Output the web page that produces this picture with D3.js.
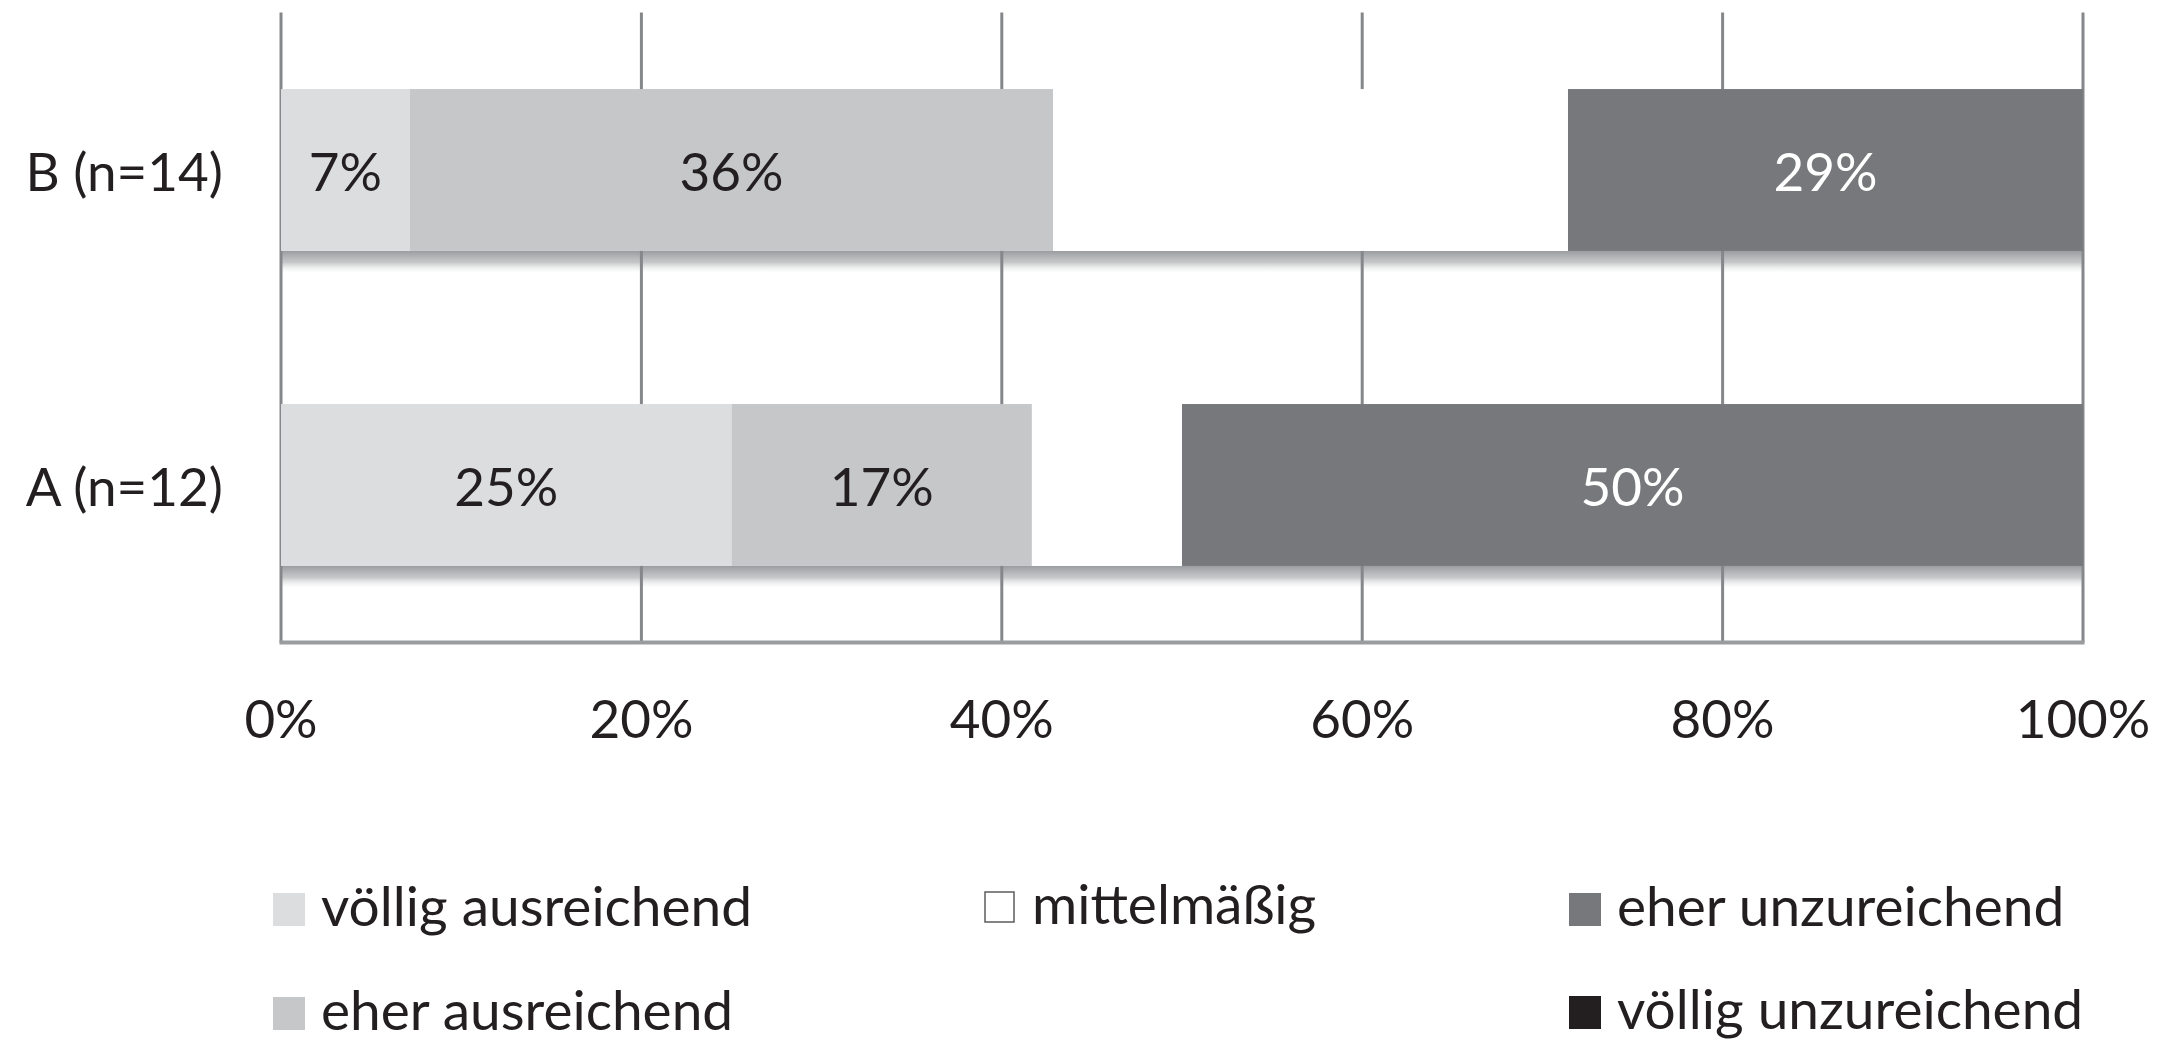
<!DOCTYPE html>
<html><head><meta charset="utf-8">
<script src="https://cdn.jsdelivr.net/npm/d3@7"></script>
<style>html,body{margin:0;padding:0;background:#fff;}svg{display:block;}</style>
</head><body>
<svg id="chart" width="2183" height="1041"></svg>
<script>
const categories = ["B (n=14)", "A (n=12)"];
const seriesNames = ["völlig ausreichend", "eher ausreichend", "mittelmäßig", "eher unzureichend", "völlig unzureichend"];
const seriesColors = ["#dcdddf", "#c6c7c9", "#ffffff", "#77787b", "#231f20"];
const labelColors = ["#231f20", "#231f20", null, "#ffffff", "#ffffff"];
// percent values per category (B, A)
const voelligAusreichend = [7.14, 25.0];
const eherAusreichend = [35.71, 16.67];
const mittelmaessig = [28.57, 8.33];
const eherUnzureichend = [28.57, 50.0];
const voelligUnzureichend = [0, 0];
const tickValues = [0, 20, 40, 60, 80, 100];
const tickLabels = ["0%", "20%", "40%", "60%", "80%", "100%"];

const series = [voelligAusreichend, eherAusreichend, mittelmaessig, eherUnzureichend, voelligUnzureichend];
const FONT = "Lato, 'Open Sans', sans-serif";

const svg = d3.select("#chart");
const plotLeft = 281, plotRight = 2083, plotTop = 12.5, plotBottom = 642.5;
const x = d3.scaleLinear().domain([0, 100]).range([plotLeft, plotRight]);
const y = d3.scaleBand().domain(categories).range([plotTop, plotBottom]).paddingInner(0.486).paddingOuter(0.243);

const defs = svg.append("defs");
const grad = defs.append("linearGradient").attr("id", "shadow").attr("x1", 0).attr("x2", 0).attr("y1", 0).attr("y2", 1);
grad.append("stop").attr("offset", "0%").attr("stop-color", "#8f9295").attr("stop-opacity", 0.9);
grad.append("stop").attr("offset", "55%").attr("stop-color", "#b3b5b7").attr("stop-opacity", 0.75);
grad.append("stop").attr("offset", "100%").attr("stop-color", "#e6e7e8").attr("stop-opacity", 0.1);

// shadows
svg.append("g").selectAll("rect").data(categories).join("rect")
  .attr("x", x(0)).attr("width", x(100) - x(0))
  .attr("y", d => y(d) + y.bandwidth()).attr("height", 21)
  .attr("fill", "url(#shadow)");

// gridlines
svg.append("g").selectAll("line").data(tickValues).join("line")
  .attr("x1", d => x(d)).attr("x2", d => x(d))
  .attr("y1", plotTop).attr("y2", plotBottom)
  .attr("stroke", "#85878a").attr("stroke-width", 3);

// stacked bars
const stackData = categories.map((c, i) => {
  const o = { cat: c };
  seriesNames.forEach((s, j) => o[s] = series[j][i]);
  return o;
});
const stacked = d3.stack().keys(seriesNames)(stackData);
const gBars = svg.append("g");
stacked.forEach((layer, j) => {
  gBars.append("g").selectAll("rect").data(layer).join("rect")
    .attr("x", d => x(d[0])).attr("width", d => x(d[1]) - x(d[0]))
    .attr("y", d => y(d.data.cat)).attr("height", y.bandwidth())
    .attr("fill", seriesColors[j]);
  if (labelColors[j]) {
    gBars.append("g").selectAll("text").data(layer.filter(d => d[1] - d[0] > 0)).join("text")
      .attr("x", d => x((d[0] + d[1]) / 2)).attr("y", d => y(d.data.cat) + y.bandwidth() / 2)
      .attr("text-anchor", "middle").attr("dominant-baseline", "central")
      .attr("font-family", FONT).attr("font-size", 53)
      .attr("fill", labelColors[j])
      .text(d => Math.round(d[1] - d[0]) + "%");
  }
});

// bottom axis line
svg.append("line").attr("x1", x(0) - 1.5).attr("x2", x(100) + 1.5).attr("y1", plotBottom).attr("y2", plotBottom)
  .attr("stroke", "#9a9c9e").attr("stroke-width", 4);

// x tick labels
svg.append("g").selectAll("text").data(tickValues).join("text")
  .attr("x", d => x(d)).attr("y", 738)
  .attr("text-anchor", "middle").attr("font-family", FONT).attr("font-size", 53).attr("fill", "#231f20")
  .text((d, i) => tickLabels[i]);

// category labels
svg.append("g").selectAll("text").data(categories).join("text")
  .attr("x", 223).attr("y", d => y(d) + y.bandwidth() / 2)
  .attr("text-anchor", "end").attr("dominant-baseline", "central")
  .attr("font-family", FONT).attr("font-size", 53).attr("fill", "#231f20")
  .text(d => d);

// legend
const legendPos = [
  { sx: 273, sy: 893 }, { sx: 273, sy: 997 }, { sx: 984, sy: 891 }, { sx: 1569, sy: 893 }, { sx: 1569, sy: 996 }
];
const lg = svg.append("g");
seriesNames.forEach((s, j) => {
  const p = legendPos[j];
  const isWhite = seriesColors[j] === "#ffffff";
  lg.append("rect").attr("x", p.sx + (isWhite ? 1 : 0)).attr("y", p.sy + (isWhite ? 1 : 0))
    .attr("width", isWhite ? 29 : 32).attr("height", isWhite ? 30 : 33)
    .attr("fill", seriesColors[j])
    .attr("stroke", isWhite ? "#5c5d60" : "none").attr("stroke-width", isWhite ? 1.5 : 0);
  lg.append("text").attr("x", p.sx + 48).attr("y", p.sy + 33)
    .attr("font-family", FONT).attr("font-size", 55).attr("fill", "#231f20")
    .text(s);
});
</script>
</body></html>
